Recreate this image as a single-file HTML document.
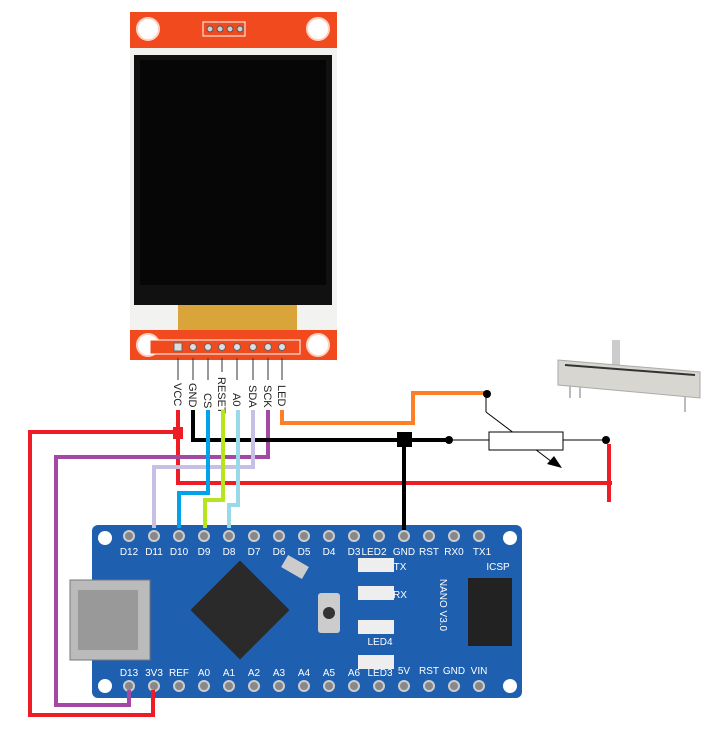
<!DOCTYPE html>
<html><head><style>body{margin:0;background:#fff}svg{display:block}</style></head><body>
<svg width="719" height="737" xmlns="http://www.w3.org/2000/svg" font-family="Liberation Sans, sans-serif">
<!-- TFT module -->
<rect x="130" y="12" width="207" height="348" fill="#f2f2f0"/>
<rect x="130" y="12" width="207" height="36" fill="#f04a1e"/>
<rect x="130" y="330" width="207" height="30" fill="#f04a1e"/>
<circle cx="148" cy="29" r="11" fill="#fff" stroke="#ffd0c0" stroke-width="2"/>
<circle cx="318" cy="29" r="11" fill="#fff" stroke="#ffd0c0" stroke-width="2"/>
<circle cx="148" cy="345" r="11" fill="#fff" stroke="#ffd0c0" stroke-width="2"/>
<circle cx="318" cy="345" r="11" fill="#fff" stroke="#ffd0c0" stroke-width="2"/>
<rect x="203" y="22" width="42" height="14" fill="#f04a1e" stroke="#fff"/>
<g fill="#ccc" stroke="#555"><circle cx="210" cy="29" r="3"/><circle cx="220" cy="29" r="3"/><circle cx="230" cy="29" r="3"/><circle cx="240" cy="29" r="3"/></g>
<rect x="134" y="55" width="198" height="250" fill="#111"/>
<rect x="140" y="60" width="186" height="225" fill="#060606"/>
<rect x="178" y="305" width="119" height="25" fill="#d9a53a"/>
<rect x="150" y="340" width="150" height="14" fill="#f04a1e" stroke="#fff"/>
<g fill="#ddd" stroke="#666"><rect x="174" y="343" width="8" height="8"/><circle cx="193" cy="347" r="3.5"/><circle cx="208" cy="347" r="3.5"/><circle cx="222" cy="347" r="3.5"/><circle cx="237" cy="347" r="3.5"/><circle cx="253" cy="347" r="3.5"/><circle cx="268" cy="347" r="3.5"/><circle cx="282" cy="347" r="3.5"/></g>
<g stroke="#333" stroke-width="1"><line x1="178" y1="358" x2="178" y2="380"/><line x1="193" y1="358" x2="193" y2="380"/><line x1="208" y1="358" x2="208" y2="380"/><line x1="222" y1="358" x2="222" y2="372"/><line x1="237" y1="358" x2="237" y2="380"/><line x1="253" y1="358" x2="253" y2="380"/><line x1="268" y1="358" x2="268" y2="380"/><line x1="282" y1="358" x2="282" y2="380"/></g>
<g font-size="11" fill="#222">
<text transform="translate(174,383) rotate(90)">VCC</text>
<text transform="translate(189,383) rotate(90)">GND</text>
<text transform="translate(204,393) rotate(90)">CS</text>
<text transform="translate(218,377) rotate(90)">RESET</text>
<text transform="translate(233,393) rotate(90)">A0</text>
<text transform="translate(249,385) rotate(90)">SDA</text>
<text transform="translate(264,385) rotate(90)">SCK</text>
<text transform="translate(278,385) rotate(90)">LED</text>
</g>
<!-- Arduino -->
<rect x="92" y="525" width="430" height="173" rx="6" fill="#1f5fb0"/>
<rect x="70" y="580" width="80" height="80" fill="#bbb" stroke="#777"/>
<rect x="78" y="590" width="60" height="60" fill="#999"/>
<g transform="rotate(45 240 610)"><rect x="205" y="575" width="70" height="70" fill="#2a2a2a"/></g>
<rect x="318" y="593" width="22" height="40" rx="3" fill="#ccc"/><circle cx="329" cy="613" r="6" fill="#333"/>
<rect x="283" y="560" width="24" height="14" fill="#ccc" transform="rotate(30 295 567)"/>
<rect x="468" y="578" width="44" height="68" fill="#222"/>
<g fill="#eee"><rect x="358" y="558" width="36" height="14"/><rect x="358" y="586" width="36" height="14"/><rect x="358" y="620" width="36" height="14"/><rect x="358" y="655" width="36" height="14"/></g>
<g fill="#888" stroke="#ccc" stroke-width="2">
<circle cx="129" cy="536" r="5"/><circle cx="154" cy="536" r="5"/><circle cx="179" cy="536" r="5"/><circle cx="204" cy="536" r="5"/><circle cx="229" cy="536" r="5"/><circle cx="254" cy="536" r="5"/><circle cx="279" cy="536" r="5"/><circle cx="304" cy="536" r="5"/><circle cx="329" cy="536" r="5"/><circle cx="354" cy="536" r="5"/><circle cx="379" cy="536" r="5"/><circle cx="404" cy="536" r="5"/><circle cx="429" cy="536" r="5"/><circle cx="454" cy="536" r="5"/><circle cx="479" cy="536" r="5"/>
<circle cx="129" cy="686" r="5"/><circle cx="154" cy="686" r="5"/><circle cx="179" cy="686" r="5"/><circle cx="204" cy="686" r="5"/><circle cx="229" cy="686" r="5"/><circle cx="254" cy="686" r="5"/><circle cx="279" cy="686" r="5"/><circle cx="304" cy="686" r="5"/><circle cx="329" cy="686" r="5"/><circle cx="354" cy="686" r="5"/><circle cx="379" cy="686" r="5"/><circle cx="404" cy="686" r="5"/><circle cx="429" cy="686" r="5"/><circle cx="454" cy="686" r="5"/><circle cx="479" cy="686" r="5"/>
</g>
<g fill="#fff"><circle cx="105" cy="538" r="7"/><circle cx="510" cy="538" r="7"/><circle cx="105" cy="686" r="7"/><circle cx="510" cy="686" r="7"/></g>
<g font-size="10" fill="#fff" text-anchor="middle">
<text x="129" y="555">D12</text><text x="154" y="555">D11</text><text x="179" y="555">D10</text><text x="204" y="555">D9</text><text x="229" y="555">D8</text><text x="254" y="555">D7</text><text x="279" y="555">D6</text><text x="304" y="555">D5</text><text x="329" y="555">D4</text><text x="354" y="555">D3</text><text x="374" y="555">LED2</text><text x="404" y="555">GND</text><text x="429" y="555">RST</text><text x="454" y="555">RX0</text><text x="482" y="555">TX1</text>
<text x="129" y="676">D13</text><text x="154" y="676">3V3</text><text x="179" y="676">REF</text><text x="204" y="676">A0</text><text x="229" y="676">A1</text><text x="254" y="676">A2</text><text x="279" y="676">A3</text><text x="304" y="676">A4</text><text x="329" y="676">A5</text><text x="354" y="676">A6</text><text x="380" y="676">LED3</text><text x="404" y="674">5V</text><text x="429" y="674">RST</text><text x="454" y="674">GND</text><text x="479" y="674">VIN</text>
<text x="498" y="570">ICSP</text><text x="400" y="570">TX</text><text x="400" y="598">RX</text><text x="380" y="645">LED4</text>
<text transform="translate(440,605) rotate(90)">NANO V3.0</text>
</g>
<!-- wires -->
<g fill="none" stroke-linejoin="miter">
<polyline points="178,410 178,483 612,483" stroke="#ee1c24" stroke-width="4"/>
<polyline points="178,432 30,432 30,715 153,715 153,690" stroke="#ee1c24" stroke-width="4"/>
<polyline points="609,444 609,502" stroke="#ee1c24" stroke-width="4"/>
<polyline points="268,410 268,457 56,457 56,705 129,705 129,690" stroke="#a349a4" stroke-width="4"/>
<polyline points="193,410 193,440 400,440" stroke="#000" stroke-width="4"/>
<polyline points="405,440 449,440" stroke="#000" stroke-width="4"/>
<polyline points="404,440 404,530" stroke="#000" stroke-width="4"/>
<polyline points="253,410 253,467 154,467 154,528" stroke="#c8bfe7" stroke-width="4"/>
<polyline points="208,410 208,493 179,493 179,528" stroke="#00a2e8" stroke-width="4"/>
<polyline points="223,410 223,500 205,500 205,528" stroke="#b5e61d" stroke-width="4"/>
<polyline points="238,410 238,505 229,505 229,528" stroke="#99d9ea" stroke-width="4"/>
<polyline points="282,410 282,423 413,423 413,393 487,393" stroke="#ff7f27" stroke-width="4"/>
<line x1="449" y1="440" x2="489" y2="440" stroke="#000"/>
<line x1="563" y1="440" x2="606" y2="440" stroke="#000"/>
<line x1="486" y1="393" x2="486" y2="412" stroke="#000"/>
<line x1="486" y1="412" x2="556" y2="465" stroke="#000"/>
</g>
<rect x="173" y="427" width="10" height="12" fill="#ee1c24"/>
<rect x="397" y="432" width="15" height="15" fill="#000"/>
<rect x="489" y="432" width="74" height="18" fill="#fff" stroke="#000"/>
<polygon points="562,468 547,464 554,456" fill="#000"/>
<circle cx="449" cy="440" r="4" fill="#000"/><circle cx="606" cy="440" r="4" fill="#000"/><circle cx="487" cy="394" r="4" fill="#000"/>
<!-- slide pot -->
<rect x="612" y="340" width="8" height="28" fill="#ccc"/>
<polygon points="558,360 700,372 700,398 558,385" fill="#d8d6d0" stroke="#aaa"/>
<line x1="565" y1="365" x2="695" y2="375" stroke="#333" stroke-width="2"/>
<g stroke="#bbb" stroke-width="2"><line x1="570" y1="385" x2="570" y2="398"/><line x1="580" y1="386" x2="580" y2="398"/><line x1="685" y1="397" x2="685" y2="412"/></g>
</svg>
</body></html>
